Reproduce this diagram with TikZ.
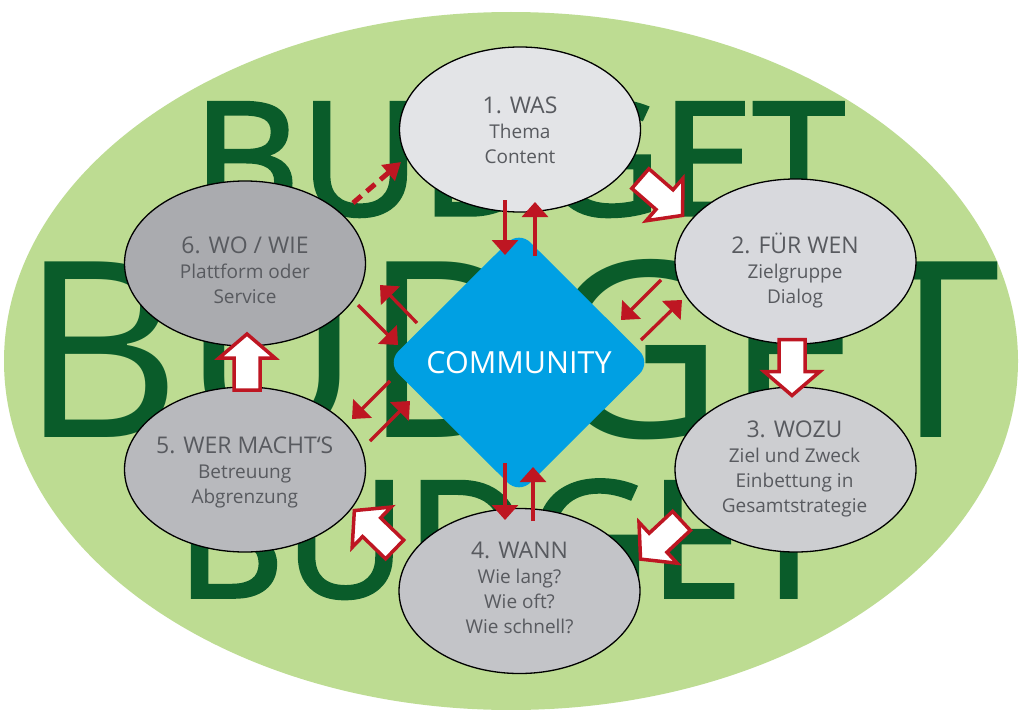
\documentclass[tikz,border=0pt]{standalone}
\usepackage{graphicx}
\usepackage{fontspec}
\setmainfont{Open Sans}
\newfontfamily\budgetbold[FakeBold=2.2]{Open Sans}
\usetikzlibrary{shapes.geometric,arrows.meta}
\definecolor{bggreen}{RGB}{189,220,146}
\definecolor{dkgreen}{RGB}{10,92,42}
\definecolor{arrred}{RGB}{190,22,34}
\definecolor{cblue}{RGB}{0,160,227}
\definecolor{txtgrey}{RGB}{88,90,95}
\definecolor{ga}{RGB}{227,228,231}
\definecolor{gb}{RGB}{216,217,221}
\definecolor{gc}{RGB}{205,206,209}
\definecolor{gd}{RGB}{195,196,200}
\definecolor{ge}{RGB}{184,185,189}
\definecolor{gf}{RGB}{170,171,175}
\newcommand{\ttlfont}{\fontsize{23}{25}\selectfont}
\tikzset{
  ell/.style={ellipse, draw=black, line width=1.3pt, minimum width=241pt, minimum height=165pt, inner sep=0pt},
  etxt/.style={align=center, text=txtgrey, inner sep=0pt, font=\fontsize{19}{25}\selectfont},
  budget/.style={text=dkgreen, inner sep=0pt, anchor=base west},
  thinarr/.style={draw=arrred, line width=3.3pt, -{Triangle[width=26pt,length=15pt]}},
  dasharr/.style={draw=arrred, line width=5pt, dash pattern=on 11pt off 7pt, -{Triangle[width=20pt,length=17pt]}},
  blockarrow/.style={fill=white, draw=arrred, line width=3.5pt, line join=miter},
  pics/blockarr/.style={code={\draw[blockarrow] (-28,-13) -- (4,-13) -- (4,-28) -- (28,0) -- (4,28) -- (4,13) -- (-28,13) -- cycle;}}
}
\begin{document}
\begin{tikzpicture}[x=1pt,y=-1pt]
\useasboundingbox (0,0) rectangle (1019,709);
\fill[white] (0,0) rectangle (1019,709);
\fill[bggreen] (511,361) ellipse [x radius=507, y radius=349];

% BUDGET
\node[budget, font=\budgetbold] (bud1) at (192.5,215) {\resizebox{651pt}{114pt}{BUDGET}};
\node[budget] (bud2) at (20,437) {\resizebox{979pt}{178pt}{BUDGET}};
\node[budget, font=\budgetbold] (bud3) at (176,597) {\resizebox{658pt}{117pt}{BUDGET}};

% diamond
\node[diamond, aspect=1, fill=cblue, rounded corners=16pt, minimum width=264pt, minimum height=263pt, inner sep=0pt, text=white, font=\fontsize{30.5}{34}\selectfont] (dm) at (519,362.5) {COMMUNITY};

% ellipses
\node[ell, fill=ga] (e1) at (520,129.5) {};
\node[ell, fill=gb] (e2) at (795.5,261.5) {};
\node[ell, fill=gc] (e3) at (795.5,469.5) {};
\node[ell, fill=gd] (e4) at (519.5,591) {};
\node[ell, fill=ge] (e5) at (245,469.5) {};
\node[ell, fill=gf] (e6) at (245,263.5) {};

\node[etxt] (t1) at (520,130) {{\ttlfont 1. WAS}\\Thema\\Content};
\node[etxt] (t2) at (795,270.5) {{\ttlfont 2. FÜR WEN}\\Zielgruppe\\Dialog};
\node[etxt] (t3) at (794.5,469) {{\ttlfont 3. WOZU}\\Ziel und Zweck\\Einbettung in\\Gesamtstrategie};
\node[etxt] (t4) at (519.5,587.5) {{\ttlfont 4. WANN}\\Wie lang?\\Wie oft?\\Wie schnell?};
\node[etxt] (t5) at (244.7,472.5) {{\ttlfont 5. WER MACHT‘S}\\Betreuung\\Abgrenzung};
\node[etxt] (t6) at (245,270.5) {{\ttlfont 6. WO / WIE}\\Plattform oder\\Service};

% thin double arrows
\coordinate (a1s) at (505,200); \coordinate (a1e) at (505,255);
\coordinate (a2s) at (535,256); \coordinate (a2e) at (535,202);
\coordinate (a3s) at (505,463); \coordinate (a3e) at (505,520);
\coordinate (a4s) at (533,521); \coordinate (a4e) at (533,467);
\coordinate (a5s) at (661,280); \coordinate (a5e) at (621,320);
\coordinate (a6s) at (641,340); \coordinate (a6e) at (682,300);
\coordinate (a7s) at (417,323); \coordinate (a7e) at (380,285);
\coordinate (a8s) at (358,305); \coordinate (a8e) at (398,345);
\coordinate (a9s) at (390,381); \coordinate (a9e) at (352,419);
\coordinate (a10s) at (370,441); \coordinate (a10e) at (410,401);
\foreach \i in {1,...,10} {\draw[thinarr] (a\i s) -- (a\i e);}

% dashed arrow 6 -> 1
\coordinate (d6) at (353,203); \coordinate (d1) at (401,162);
\draw[dasharr] (d6) -- (d1);

% block arrows
\pic[rotate=-41] (b12) at (661.5,197) {blockarr};
\pic[rotate=-90] (b23) at (792,367.5) {blockarr};
\pic[rotate=-137] (b34) at (661,540) {blockarr};
\pic[rotate=136] (b45) at (374.5,530) {blockarr};
\pic[rotate=90] (b56) at (247,362) {blockarr};
\end{tikzpicture}
\end{document}
